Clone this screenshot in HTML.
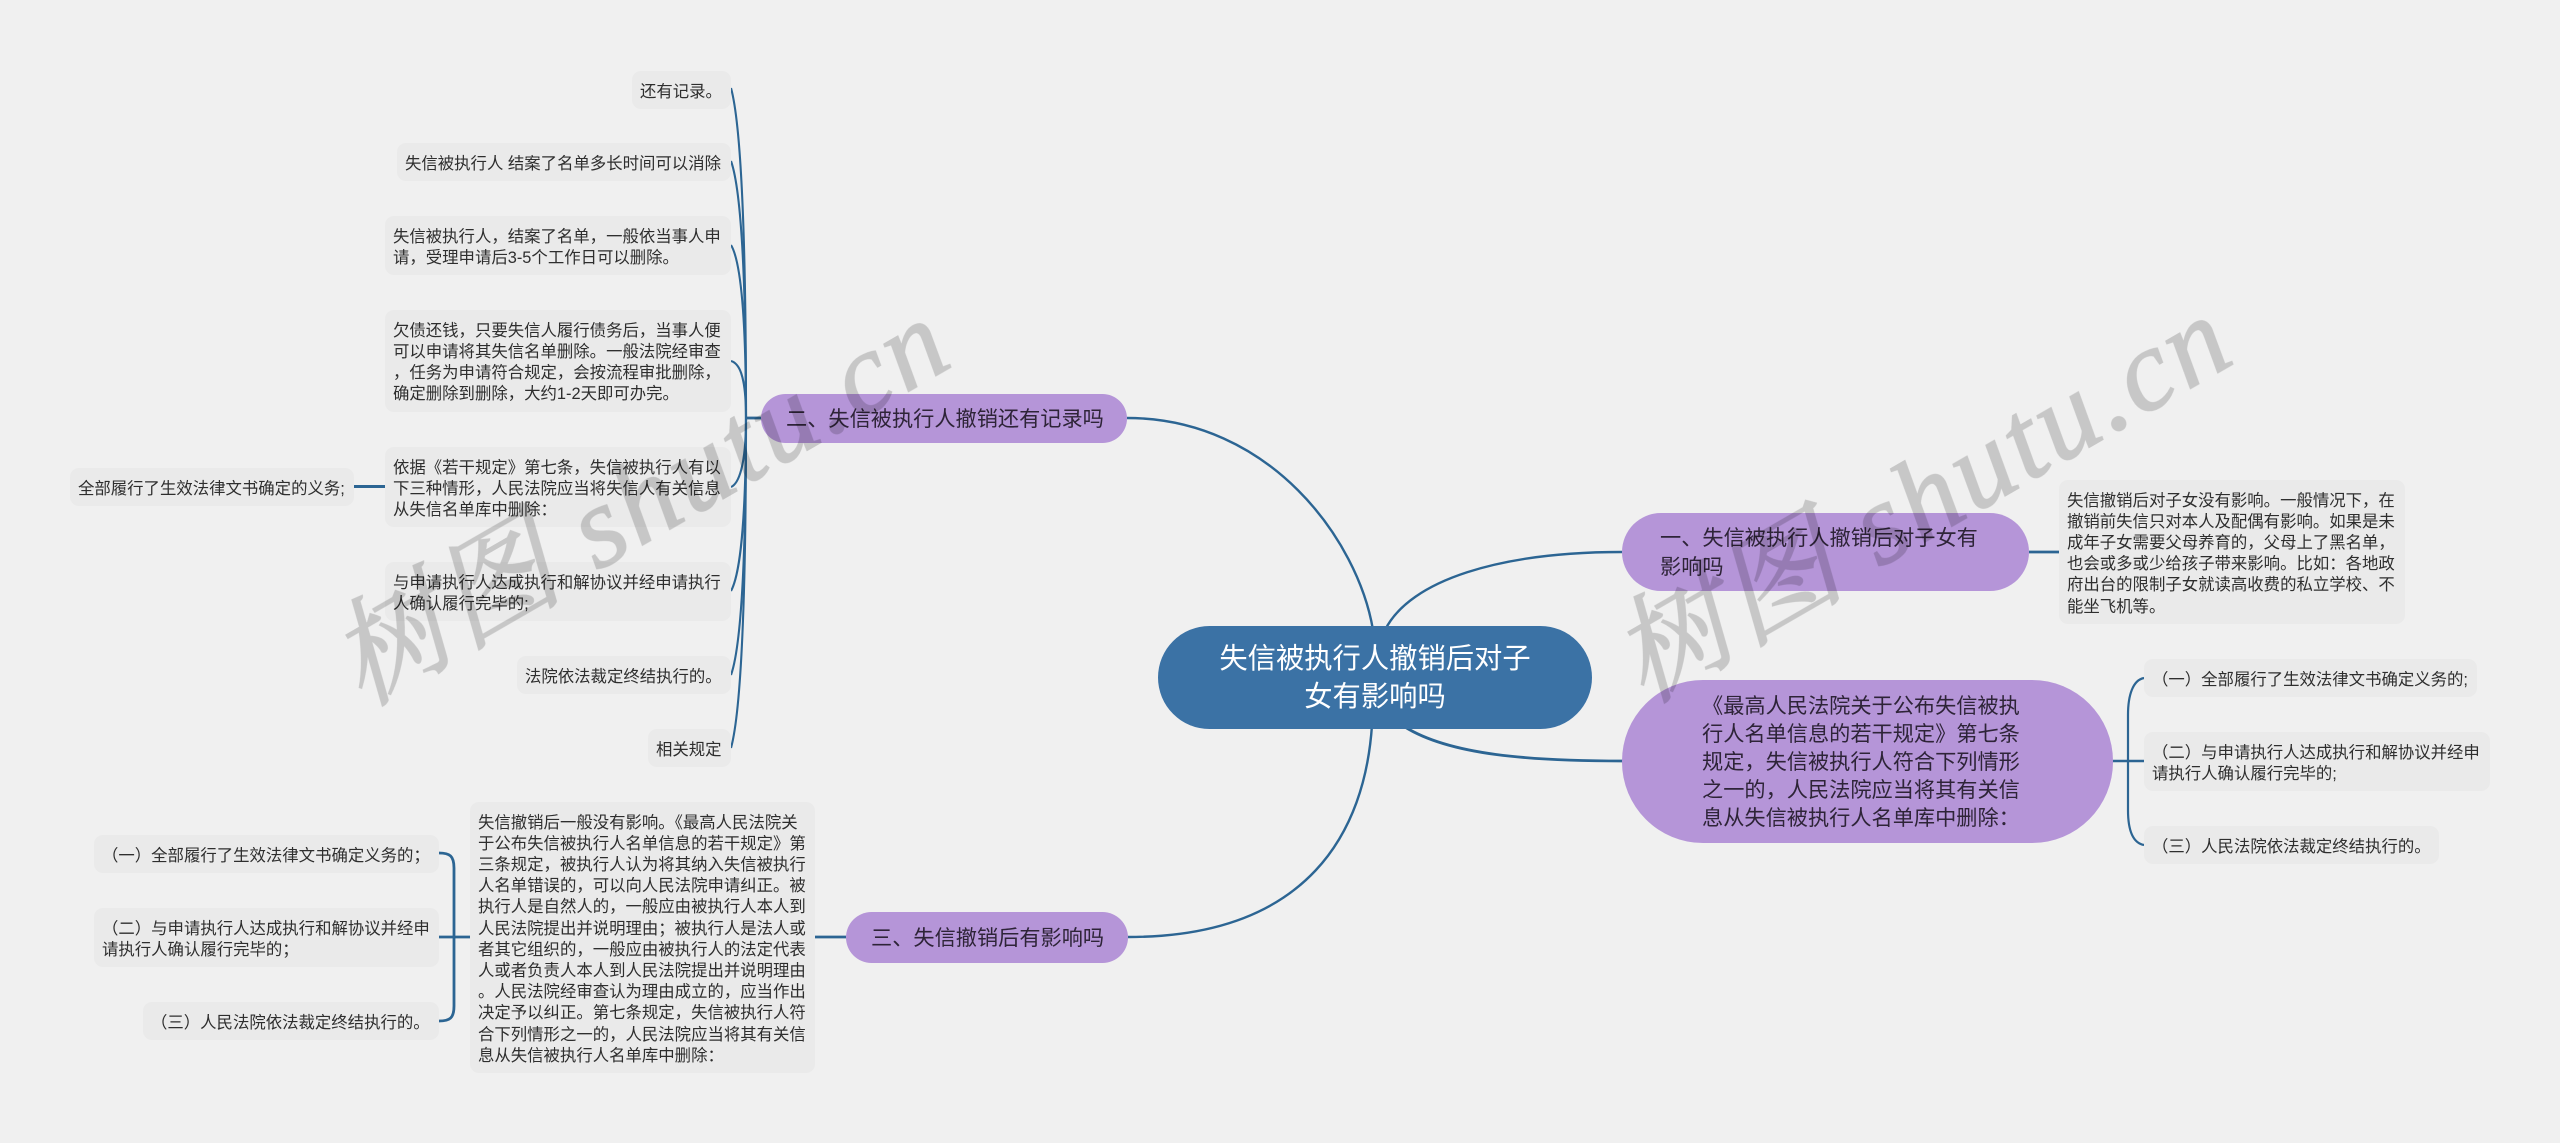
<!DOCTYPE html>
<html lang="zh-CN">
<head>
<meta charset="utf-8">
<title>失信被执行人撤销后对子女有影响吗</title>
<style>
html,body{margin:0;padding:0;background:#f0f0f0;}
body{width:2560px;height:1143px;position:relative;overflow:hidden;font-family:"Liberation Sans","Noto Sans CJK SC",sans-serif;color:#2e2e2e;}
svg{position:absolute;left:0;top:0;}
.b,.p,.m{position:absolute;box-sizing:border-box;white-space:nowrap;}
.b{background:#eaeaea;border-radius:9px;padding:10.5px 8px 0;font-size:16.4px;line-height:21.2px;}
.p{background:#b595d8;font-size:21.2px;line-height:28.1px;color:#2e2438;display:flex;align-items:center;padding-top:3px;}
.m{background:#3b72a5;color:#fff;font-size:28.3px;line-height:37.5px;text-align:center;display:flex;align-items:center;justify-content:center;}
</style>
</head>
<body>
<svg width="2560" height="1143" viewBox="0 0 2560 1143" fill="none" stroke="#2c6593" stroke-width="2.4">
<!-- main curves -->
<path d="M1373,630 C1358,540 1270,418 1127,418"/>
<path d="M1385,630 C1410,580 1500,552 1622,552"/>
<path d="M1405,727 C1450,755 1530,761 1623,761" stroke-width="2.8"/>
<path d="M1372,725 C1365,830 1310,937 1128,937"/>
<!-- branch two children -->
<path d="M731,88 C737,110 746,170 746,418" stroke-width="2.1"/>
<path d="M731,161 C737,178 746,225 746,418" stroke-width="2.1"/>
<path d="M731,245 C737,255 746,285 746,418" stroke-width="2.1"/>
<path d="M731,361 C738,363 746,372 746,418" stroke-width="2.1"/>
<path d="M731,487 C738,484 746,468 746,418" stroke-width="2.1"/>
<path d="M731,591 C737,580 746,545 746,418" stroke-width="2.1"/>
<path d="M731,675 C737,658 746,610 746,418" stroke-width="2.1"/>
<path d="M731,748 C737,726 746,665 746,418" stroke-width="2.1"/>
<path d="M746,418 H761" stroke-width="2.8"/>
<path d="M354,486.5 H385" stroke-width="3"/>
<!-- branch three -->
<path d="M815,937 H846" stroke-width="2.8"/>
<path d="M439,937 H470" stroke-width="2.8"/>
<path d="M439,853 C450,853 454,856 454,868 V1006 C454,1018 450,1021 439,1021" stroke-width="2.8"/>
<!-- right -->
<path d="M2029,552 H2059" stroke-width="2.8"/>
<path d="M2113,761 H2144" stroke-width="2.6"/>
<path d="M2144,678 C2133,680 2128,695 2128,715 V810 C2128,830 2133,843 2144,845" stroke-width="2.2"/>
</svg>

<div class="m" style="left:1158px;top:626px;width:434px;height:103px;border-radius:52px;">失信被执行人撤销后对子<br>女有影响吗</div>

<div class="p" style="left:761px;top:394px;width:366px;height:49px;border-radius:25px;padding-left:25px;">二、失信被执行人撤销还有记录吗</div>
<div class="p" style="left:846px;top:912px;width:282px;height:51px;border-radius:26px;padding-left:25px;">三、失信撤销后有影响吗</div>
<div class="p" style="left:1622px;top:513px;width:407px;height:78px;border-radius:39px;padding-left:38px;"><span>一、失信被执行人撤销后对子女有<br>影响吗</span></div>
<div class="p" style="left:1622px;top:680px;width:491px;height:163px;border-radius:81px;padding-left:80px;"><span>《最高人民法院关于公布失信被执<br>行人名单信息的若干规定》第七条<br>规定，失信被执行人符合下列情形<br>之一的，人民法院应当将其有关信<br>息从失信被执行人名单库中删除：</span></div>

<div class="b" style="left:632px;top:71px;width:99px;height:38px;">还有记录。</div>
<div class="b" style="left:397px;top:143px;width:334px;height:38px;">失信被执行人 结案了名单多长时间可以消除</div>
<div class="b" style="left:385px;top:216px;width:346px;height:59px;">失信被执行人，结案了名单，一般依当事人申<br>请，受理申请后3-5个工作日可以删除。</div>
<div class="b" style="left:385px;top:310px;width:346px;height:102px;">欠债还钱，只要失信人履行债务后，当事人便<br>可以申请将其失信名单删除。一般法院经审查<br>，任务为申请符合规定，会按流程审批删除，<br>确定删除到删除，大约1-2天即可办完。</div>
<div class="b" style="left:385px;top:447px;width:346px;height:80px;">依据《若干规定》第七条，失信被执行人有以<br>下三种情形，人民法院应当将失信人有关信息<br>从失信名单库中删除：</div>
<div class="b" style="left:70px;top:468px;width:284px;height:38px;">全部履行了生效法律文书确定的义务;</div>
<div class="b" style="left:385px;top:562px;width:346px;height:59px;">与申请执行人达成执行和解协议并经申请执行<br>人确认履行完毕的;</div>
<div class="b" style="left:517px;top:656px;width:214px;height:38px;">法院依法裁定终结执行的。</div>
<div class="b" style="left:648px;top:729px;width:83px;height:38px;">相关规定</div>

<div class="b" style="left:470px;top:802px;width:345px;height:271px;">失信撤销后一般没有影响。《最高人民法院关<br>于公布失信被执行人名单信息的若干规定》第<br>三条规定，被执行人认为将其纳入失信被执行<br>人名单错误的，可以向人民法院申请纠正。被<br>执行人是自然人的，一般应由被执行人本人到<br>人民法院提出并说明理由；被执行人是法人或<br>者其它组织的，一般应由被执行人的法定代表<br>人或者负责人本人到人民法院提出并说明理由<br>。人民法院经审查认为理由成立的，应当作出<br>决定予以纠正。第七条规定，失信被执行人符<br>合下列情形之一的，人民法院应当将其有关信<br>息从失信被执行人名单库中删除：</div>
<div class="b" style="left:94px;top:835px;width:345px;height:38px;">（一）全部履行了生效法律文书确定义务的；</div>
<div class="b" style="left:94px;top:908px;width:345px;height:59px;">（二）与申请执行人达成执行和解协议并经申<br>请执行人确认履行完毕的；</div>
<div class="b" style="left:143px;top:1002px;width:296px;height:38px;">（三）人民法院依法裁定终结执行的。</div>

<div class="b" style="left:2059px;top:480px;width:346px;height:144px;">失信撤销后对子女没有影响。一般情况下，在<br>撤销前失信只对本人及配偶有影响。如果是未<br>成年子女需要父母养育的，父母上了黑名单，<br>也会或多或少给孩子带来影响。比如：各地政<br>府出台的限制子女就读高收费的私立学校、不<br>能坐飞机等。</div>
<div class="b" style="left:2144px;top:659px;width:333px;height:38px;">（一）全部履行了生效法律文书确定义务的;</div>
<div class="b" style="left:2144px;top:732px;width:346px;height:59px;">（二）与申请执行人达成执行和解协议并经申<br>请执行人确认履行完毕的;</div>
<div class="b" style="left:2144px;top:826px;width:295px;height:38px;">（三）人民法院依法裁定终结执行的。</div>

<svg width="2560" height="1143" viewBox="0 0 2560 1143" style="pointer-events:none">
<g font-family="'Liberation Serif','Noto Serif CJK SC',serif" font-style="italic" font-size="116" fill="#000" stroke="#000" stroke-width="1.6" opacity="0.17">
<text transform="translate(362,707) rotate(-30)" textLength="685" lengthAdjust="spacing">树图 shutu.cn</text>
<text transform="translate(1644,704) rotate(-30)" textLength="685" lengthAdjust="spacing">树图 shutu.cn</text>
</g>
</svg>
</body>
</html>
